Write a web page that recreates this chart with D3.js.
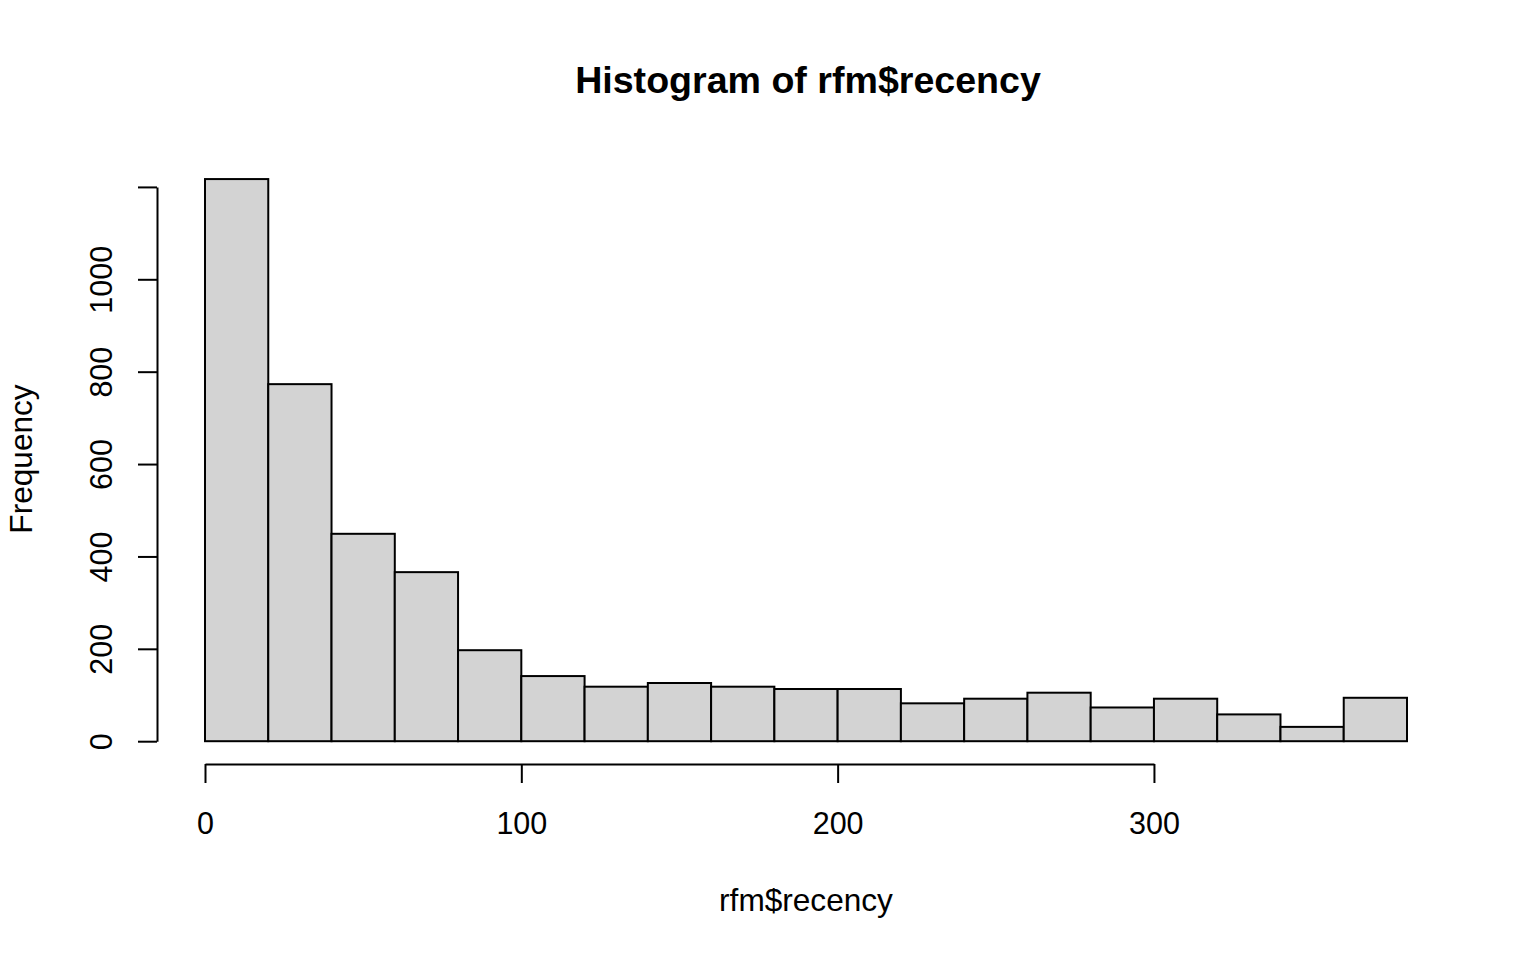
<!DOCTYPE html>
<html>
<head>
<meta charset="utf-8">
<script src="https://cdn.jsdelivr.net/npm/d3@7"></script>
<style>
  html, body { margin: 0; padding: 0; background: #fff; }
  svg { display: block; font-family: "Liberation Sans", Arial, sans-serif; }
</style>
</head>
<body>
<div id="chart"></div>
<script>
// Histogram data: 20-day bins from 0 to 380
const binEdges = [0, 20, 40, 60, 80, 100, 120, 140, 160, 180, 200,
                  220, 240, 260, 280, 300, 320, 340, 360, 380];
const counts = [1217, 773, 449, 366, 197, 141, 118, 126, 118, 113,
                113, 82, 92, 105, 73, 92, 58, 31, 94];
const xTicks = [0, 100, 200, 300];
const yTicks = [0, 200, 400, 600, 800, 1000, 1200];
const yTickLabels = ["0", "200", "400", "600", "800", "1000", ""];

const width = 1536, height = 960;

const svg = d3.select("#chart").append("svg")
    .attr("width", width)
    .attr("height", height);

// Scales (pixel positions matched to the plot area)
const x = d3.scaleLinear().domain([0, 380]).range([205, 1407]);
const y = d3.scaleLinear().domain([0, 1000]).range([741.2, 279.3]);

const bins = counts.map((c, i) => ({ x0: binEdges[i], x1: binEdges[i + 1], n: c }));

// Bars
svg.append("g")
    .selectAll("rect")
    .data(bins)
    .join("rect")
    .attr("x", d => x(d.x0))
    .attr("y", d => y(d.n))
    .attr("width", d => x(d.x1) - x(d.x0))
    .attr("height", d => y(0) - y(d.n))
    .attr("fill", "#d3d3d3")
    .attr("stroke", "#000")
    .attr("stroke-width", 2);

// X axis, R style: line only spans first to last tick
const xAxisScale = d3.scaleLinear()
    .domain([xTicks[0], xTicks[xTicks.length - 1]])
    .range([x(xTicks[0]), x(xTicks[xTicks.length - 1])]);

const xAxis = svg.append("g")
    .attr("transform", "translate(0,764)")
    .call(d3.axisBottom(xAxisScale)
        .tickValues(xTicks)
        .tickSize(19)
        .tickSizeOuter(0)
        .tickFormat(d3.format("d")));

xAxis.selectAll("text")
    .attr("y", 70)
    .attr("dy", null)
    .style("font-size", "30.5px")
    .attr("fill", "#000");

// Y axis
const yAxisScale = d3.scaleLinear()
    .domain([yTicks[0], yTicks[yTicks.length - 1]])
    .range([y(yTicks[0]), y(yTicks[yTicks.length - 1])]);

const yAxis = svg.append("g")
    .attr("transform", "translate(157,0)")
    .call(d3.axisLeft(yAxisScale)
        .tickValues(yTicks)
        .tickSize(19)
        .tickSizeOuter(0)
        .tickFormat((d, i) => yTickLabels[i]));

yAxis.selectAll("text")
    .attr("x", null)
    .attr("dy", null)
    .attr("transform", "translate(-45,0) rotate(-90)")
    .attr("text-anchor", "middle")
    .style("font-size", "30.5px")
    .attr("fill", "#000");

svg.selectAll(".domain, .tick line")
    .attr("stroke", "#000")
    .attr("stroke-width", 2);

// Title and axis labels
svg.append("text")
    .attr("x", 808)
    .attr("y", 93)
    .attr("text-anchor", "middle")
    .style("font-size", "37.6px")
    .style("font-weight", "bold")
    .text("Histogram of rfm$recency");

svg.append("text")
    .attr("x", 806)
    .attr("y", 911)
    .attr("text-anchor", "middle")
    .style("font-size", "31.6px")
    .text("rfm$recency");

svg.append("text")
    .attr("transform", "translate(32,459) rotate(-90)")
    .attr("text-anchor", "middle")
    .style("font-size", "31.6px")
    .text("Frequency");
</script>
</body>
</html>
